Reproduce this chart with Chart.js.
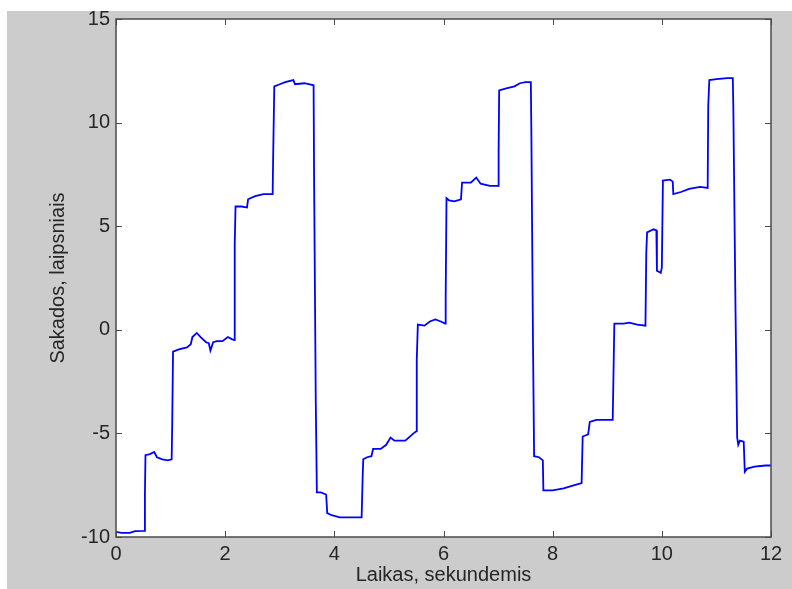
<!DOCTYPE html>
<html>
<head>
<meta charset="utf-8">
<script src="https://cdn.jsdelivr.net/npm/chart.js@4.4.1/dist/chart.umd.min.js"></script>
<style>
  html, body { margin: 0; padding: 0; background: #ffffff; }
  canvas { display: block; }
</style>
</head>
<body>
<canvas id="sakados" width="792" height="589"></canvas>
<script>
// eye position over time
const timeSec = [
  0, 0.1, 0.25, 0.35, 0.52, 0.53, 0.54, 0.62, 0.7, 0.75, 0.85, 0.95, 1.02,
  1.03, 1.045, 1.15, 1.3, 1.37, 1.4, 1.48, 1.55, 1.65, 1.7, 1.73, 1.78, 1.85, 1.95, 2.05, 2.12, 2.17,
  2.175, 2.19, 2.3, 2.4, 2.42, 2.55, 2.7, 2.87,
  2.88, 2.9, 3.0, 3.1, 3.25, 3.28, 3.45, 3.55, 3.62,
  3.63, 3.66, 3.68, 3.75, 3.85, 3.87, 3.95, 4.1, 4.3, 4.5,
  4.52, 4.53, 4.6, 4.68, 4.71, 4.85, 4.95, 5.03, 5.1, 5.3, 5.45, 5.5,
  5.51, 5.53, 5.65, 5.75, 5.85, 5.95, 6.03,
  6.04, 6.055, 6.1, 6.2, 6.32, 6.34, 6.5, 6.6, 6.68, 6.85, 7.0,
  7.01, 7.02, 7.15, 7.3, 7.4, 7.5, 7.6,
  7.61, 7.64, 7.66, 7.75, 7.82, 7.83, 8.0, 8.2, 8.4, 8.53,
  8.55, 8.65, 8.68, 8.8, 9.0, 9.1,
  9.13, 9.3, 9.4, 9.55, 9.7,
  9.715, 9.73, 9.85, 9.9, 9.91, 9.98, 10.0,
  10.02, 10.15, 10.2, 10.21, 10.35, 10.5, 10.7, 10.84,
  10.85, 10.87, 11.0, 11.2, 11.3,
  11.31, 11.35, 11.38, 11.4, 11.43, 11.5,
  11.52, 11.56, 11.7, 11.9, 12.0
];
const angleDeg = [
  -9.75, -9.8, -9.8, -9.72, -9.7, -7.9, -6.05, -6.0, -5.9, -6.15, -6.25, -6.3, -6.25,
  -4.5, -1.05, -0.95, -0.85, -0.7, -0.35, -0.15, -0.35, -0.6, -0.65, -1.0, -0.6, -0.55, -0.55, -0.35, -0.45, -0.5,
  4.1, 5.95, 5.95, 5.9, 6.3, 6.45, 6.55, 6.55,
  8.5, 11.75, 11.85, 11.95, 12.05, 11.85, 11.9, 11.85, 11.8,
  7.0, -3.5, -7.85, -7.85, -7.95, -8.85, -8.95, -9.05, -9.05, -9.05,
  -7.0, -6.25, -6.15, -6.1, -5.75, -5.75, -5.55, -5.2, -5.35, -5.35, -5.0, -4.9,
  -1.45, 0.25, 0.2, 0.4, 0.5, 0.4, 0.3,
  1.55, 6.35, 6.25, 6.2, 6.3, 7.1, 7.1, 7.35, 7.05, 6.95, 6.95,
  8.6, 11.55, 11.65, 11.75, 11.9, 11.95, 11.95,
  9.45, -0.7, -6.1, -6.15, -6.3, -7.75, -7.75, -7.65, -7.5, -7.4,
  -5.15, -5.05, -4.45, -4.35, -4.35, -4.35,
  0.3, 0.3, 0.35, 0.25, 0.2,
  3.7, 4.7, 4.85, 4.8, 2.85, 2.75, 3.0,
  7.2, 7.25, 7.15, 6.55, 6.65, 6.8, 6.9, 6.85,
  10.8, 12.05, 12.1, 12.15, 12.15,
  10.7, 0.9, -5.2, -5.55, -5.35, -5.4,
  -6.85, -6.7, -6.6, -6.55, -6.55
];
const xTicks = [0, 2, 4, 6, 8, 10, 12];
const yTicks = [-10, -5, 0, 5, 10, 15];
const xTitle = 'Laikas, sekundemis';
const yTitle = 'Sakados, laipsniais';

const textColor = '#262626';
const axisFont = { family: 'Liberation Sans, Arial, sans-serif', size: 20 };

// grey figure, white axes box, inward ticks on all four sides
const matlabFrame = {
  id: 'matlabFrame',
  beforeDraw(chart) {
    const { ctx, chartArea: a } = chart;
    ctx.save();
    ctx.fillStyle = '#cccccc';
    ctx.fillRect(7, 11, chart.width - 7, chart.height - 11);
    ctx.fillStyle = '#ffffff';
    ctx.fillRect(a.left, a.top, a.right - a.left, a.bottom - a.top);
    ctx.restore();
  },
  afterDraw(chart) {
    const { ctx, chartArea: a, scales } = chart;
    const len = 6;
    ctx.save();
    ctx.strokeStyle = '#4a4a4a';
    ctx.lineWidth = 1;
    ctx.beginPath();
    scales.x.ticks.forEach(t => {
      const px = Math.round(scales.x.getPixelForValue(t.value)) + 0.5;
      ctx.moveTo(px, a.bottom); ctx.lineTo(px, a.bottom - len);
      ctx.moveTo(px, a.top); ctx.lineTo(px, a.top + len);
    });
    scales.y.ticks.forEach(t => {
      const py = Math.round(scales.y.getPixelForValue(t.value)) + 0.5;
      ctx.moveTo(a.left, py); ctx.lineTo(a.left + len, py);
      ctx.moveTo(a.right, py); ctx.lineTo(a.right - len, py);
    });
    ctx.stroke();
    ctx.lineWidth = 1.5;
    ctx.strokeRect(a.left, a.top, a.right - a.left, a.bottom - a.top);
    ctx.restore();
  }
};

const points = timeSec.map((t, i) => ({ x: t, y: angleDeg[i] }));

new Chart(document.getElementById('sakados'), {
  type: 'scatter',
  data: {
    datasets: [{
      data: points,
      showLine: true,
      borderColor: '#0000ff',
      borderWidth: 1.8,
      pointRadius: 0,
      tension: 0
    }]
  },
  options: {
    responsive: false,
    animation: false,
    layout: { padding: { top: 19, right: 21, left: 0, bottom: 0 } },
    plugins: {
      legend: { display: false },
      tooltip: { enabled: false }
    },
    scales: {
      x: {
        type: 'linear',
        min: 0,
        max: 12,
        afterBuildTicks: scale => { scale.ticks = xTicks.map(v => ({ value: v })); },
        afterFit: scale => { scale.height = 52; },
        grid: { display: false, drawTicks: false },
        border: { display: false },
        ticks: { color: textColor, font: axisFont, padding: 5, maxRotation: 0 },
        title: { display: true, text: xTitle, color: textColor, font: axisFont, padding: { top: 0, bottom: 2 } }
      },
      y: {
        type: 'linear',
        min: -10,
        max: 15,
        afterBuildTicks: scale => { scale.ticks = yTicks.map(v => ({ value: v })); },
        afterFit: scale => { scale.width = 116; },
        grid: { display: false, drawTicks: false },
        border: { display: false },
        ticks: { color: textColor, font: axisFont, padding: 6 },
        title: { display: true, text: yTitle, color: textColor, font: axisFont, padding: { top: 46, bottom: 0 } }
      }
    }
  },
  plugins: [matlabFrame]
});
</script>
</body>
</html>
